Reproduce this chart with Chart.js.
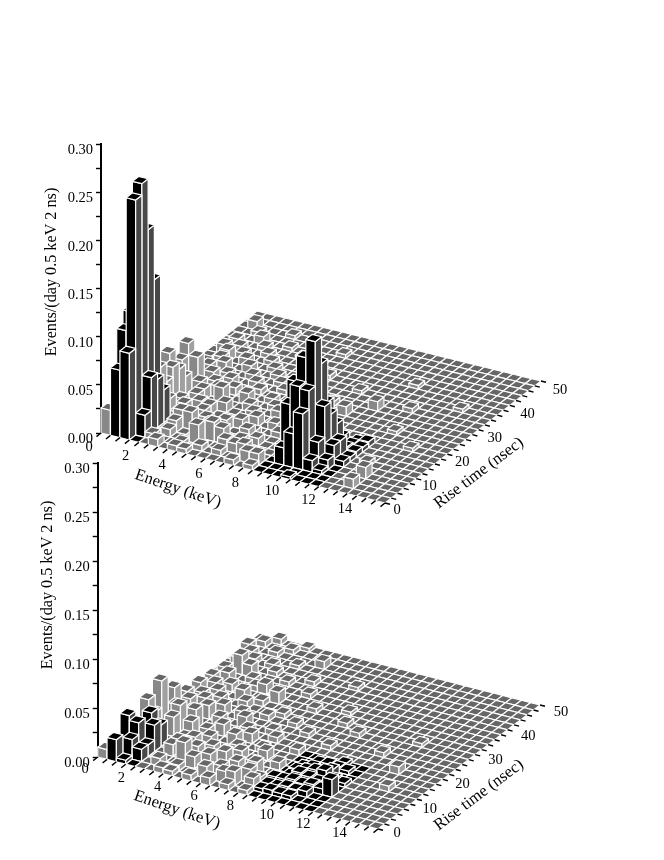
<!DOCTYPE html>
<html>
<head>
<meta charset="utf-8">
<script src="https://cdn.jsdelivr.net/npm/chart.js@4"></script>
<style>
html, body { margin: 0; padding: 0; background: #fff; }
#page { position: relative; width: 664px; height: 860px; overflow: hidden; }
canvas { position: absolute; left: 0; }
</style>
</head>
<body>
<div id="page">
<canvas id="top" width="664" height="540" style="top:0"></canvas>
<canvas id="bottom" width="664" height="420" style="top:440px"></canvas>
</div>
<script>
// bin size of the histogram
const energyBin = 0.5; // keV
const riseBin = 2;     // ns

const energyTicks = [0, 2, 4, 6, 8, 10, 12, 14];
const riseTicks = [0, 10, 20, 30, 40, 50];

// [energy bin, rise time bin, events], empty bins are left out
const topBars = [
  [0,0,.026],[1,0,.07],[2,0,.09],[5,0,.008],[7,0,.006],[8,0,.005],[13,0,.006],[15,0,.005],[19,0,.003],
  [1,1,.106],[2,1,.244],[3,1,.023],[4,1,.006],[7,1,.005],[9,1,.006],[11,1,.006],[14,1,.012],[15,1,.012],[25,1,.01],
  [1,2,.12],[2,2,.256],[3,2,.057],[5,2,.008],[8,2,.02],[11,2,.012],[12,2,.01],[13,2,.012],[17,2,.018],[18,2,.035],[19,2,.058],[20,2,.012],[21,2,.004],
  [1,3,.1],[2,3,.203],[3,3,.05],[5,3,.012],[9,3,.02],[10,3,.016],[12,3,.01],[17,3,.058],[18,3,.079],[19,3,.077],[20,3,.026],[21,3,.01],[25,3,.012],
  [2,4,.146],[3,4,.034],[5,4,.018],[6,4,.018],[8,4,.012],[12,4,.015],[13,4,.008],[17,4,.077],[18,4,.104],[19,4,.123],[20,4,.058],[21,4,.02],[22,4,.006],
  [2,5,.05],[3,5,.02],[4,5,.008],[7,5,.01],[9,5,.012],[12,5,.008],[18,5,.06],[19,5,.095],[20,5,.045],[21,5,.02],[22,5,.005],[24,5,.005],
  [2,6,.03],[4,6,.012],[6,6,.01],[10,6,.01],[14,6,.006],[19,6,.05],[20,6,.03],[21,6,.008],[22,6,.006],
  [2,7,.04],[3,7,.01],[5,7,.012],[6,7,.01],[11,7,.01],[13,7,.008],[20,7,.012],[21,7,.006],[22,7,.005],
  [1,8,.047],[2,8,.033],[4,8,.012],[7,8,.01],[10,8,.008],[15,8,.006],[21,8,.004],[22,8,.006],
  [0,9,.01],[2,9,.02],[4,9,.012],[6,9,.018],[9,9,.008],[12,9,.008],[26,9,.004],
  [1,10,.03],[3,10,.012],[5,10,.012],[8,10,.012],[11,10,.006],[16,10,.006],
  [1,11,.042],[2,11,.03],[4,11,.01],[6,11,.008],[10,11,.006],[14,11,.005],[23,11,.004],
  [0,12,.012],[3,12,.012],[5,12,.01],[8,12,.006],[12,12,.006],[17,12,.01],
  [2,13,.012],[4,13,.008],[7,13,.006],[10,13,.005],[15,13,.005],
  [1,14,.008],[3,14,.012],[6,14,.006],[9,14,.005],[13,14,.005],[19,14,.01],
  [2,15,.01],[5,15,.008],[8,15,.005],[11,15,.005],[22,15,.005],
  [2,16,.012],[4,16,.008],[7,16,.005],[16,16,.004],
  [1,17,.01],[3,17,.006],[6,17,.005],[12,17,.005],[26,17,.004],
  [2,18,.006],[5,18,.005],[9,18,.004],
  [1,19,.006],[4,19,.005],[8,19,.004],[20,19,.004],
  [3,20,.008],[6,20,.004],
  [2,21,.005],[11,21,.004],
  [1,22,.009],[5,22,.004]
];

const bottomBars = [
  [0,0,.01],[1,0,.0225],[2,0,.004],[6,0,.006],[7,0,.005],[9,0,.006],[11,0,.008],[13,0,.006],[15,0,.005],
  [2,1,.02],[3,1,.0125],[5,1,.008],[7,1,.006],[10,1,.012],[12,1,.012],[13,1,.014],[15,1,.012],[16,1,.004],[17,1,.005],[18,1,.004],[19,1,.004],
  [1,2,.037],[2,2,.032],[3,2,.012],[7,2,.024],[8,2,.012],[11,2,.01],[14,2,.014],[15,2,.008],[16,2,.004],[17,2,.004],[18,2,.006],[19,2,.005],[20,2,.006],
  [2,3,.02],[3,3,.027],[5,3,.012],[9,3,.012],[12,3,.012],[14,3,.016],[16,3,.006],[17,3,.006],[18,3,.008],[19,3,.006],[20,3,.008],[21,3,.006],[22,3,.018],
  [2,4,.032],[3,4,.022],[5,4,.012],[7,4,.01],[10,4,.012],[13,4,.01],[17,4,.005],[18,4,.01],[19,4,.008],[20,4,.006],[21,4,.005],
  [1,5,.038],[5,5,.01],[6,5,.012],[8,5,.008],[11,5,.01],[15,5,.008],[17,5,.006],[18,5,.008],[19,5,.01],[20,5,.012],[21,5,.006],[22,5,.004],
  [1,6,.02],[3,6,.02],[5,6,.02],[7,6,.01],[10,6,.008],[13,6,.01],[17,6,.004],[18,6,.006],[20,6,.008],[26,6,.006],
  [1,7,.047],[3,7,.027],[6,7,.01],[9,7,.012],[12,7,.006],[18,7,.005],[19,7,.006],[20,7,.005],[21,7,.004],
  [2,8,.02],[4,8,.02],[7,8,.012],[10,8,.01],[15,8,.006],[20,8,.004],
  [1,9,.03],[3,9,.012],[6,9,.012],[9,9,.008],[12,9,.006],[25,9,.008],
  [2,10,.016],[4,10,.014],[8,10,.012],[11,10,.006],[17,10,.005],
  [1,11,.016],[3,11,.014],[5,11,.012],[7,11,.01],[14,11,.005],[22,11,.005],
  [2,12,.012],[4,12,.012],[9,12,.006],[12,12,.005],
  [1,13,.015],[3,13,.012],[6,13,.008],[10,13,.005],[18,13,.005],
  [2,14,.012],[5,14,.012],[7,14,.006],[16,14,.005],[24,14,.004],
  [1,15,.012],[3,15,.008],[8,15,.012],[12,15,.005],
  [2,16,.012],[5,16,.006],[6,16,.01],[15,16,.004],
  [1,17,.01],[4,17,.006],[10,17,.005],
  [2,18,.02],[3,18,.012],[7,18,.005],
  [1,19,.01],[5,19,.005],[9,19,.005],
  [2,20,.006],[4,20,.005],[13,20,.004],
  [1,21,.006],[6,21,.004],
  [0,22,.006],[3,22,.005],[8,22,.008],
  [1,23,.006],[4,23,.005],
  [2,24,.006],[5,24,.004]
];

// bins drawn black: [first energy bin, last energy bin, last rise bin]
const blackWindows = [[1, 3, 4], [16, 22, 8]];

function project(chart, energy, rise, value) {
  const p = chart.options.skew, xS = chart.scales.x, rS = chart.scales.rise, yS = chart.scales.y;
  const e = xS.getPixelForValue(energy) - xS.left;
  const r = rS.getPixelForValue(rise) - rS.left;
  return [xS.left + e + p.riseX * r, yS.getPixelForValue(value) + p.energyY * e + p.riseY * r];
}

function poly(ctx, pts, fill) {
  ctx.beginPath();
  pts.forEach((q, n) => n ? ctx.lineTo(q[0], q[1]) : ctx.moveTo(q[0], q[1]));
  ctx.closePath();
  ctx.fillStyle = fill;
  ctx.fill();
  ctx.stroke();
}

function text(ctx, str, x, y, angle, size) {
  ctx.save();
  ctx.translate(x, y);
  ctx.rotate(angle * Math.PI / 180);
  ctx.font = size + 'px "Liberation Serif"';
  ctx.fillStyle = '#000';
  ctx.textAlign = 'center';
  ctx.textBaseline = 'middle';
  ctx.fillText(str, 0, 0);
  ctx.restore();
}

const legoPlugin = {
  id: 'lego',
  afterDatasetsDraw(chart) {
    const ctx = chart.ctx, o = chart.options.skew;
    const heights = {};
    chart.data.datasets[0].data.forEach(d => { heights[d.i + '_' + d.j] = d.y; });
    ctx.save();
    ctx.strokeStyle = '#fff';
    ctx.lineWidth = 1.2;
    ctx.lineJoin = 'round';
    // far bins first so the nearer ones cover them
    for (let j = 24; j >= 0; j--) {
      for (let i = 0; i < 30; i++) {
        const e0 = i * energyBin, e1 = e0 + energyBin, r0 = j * riseBin, r1 = r0 + riseBin;
        const h = heights[i + '_' + j] || 0;
        const black = blackWindows.some(w => i >= w[0] && i <= w[1] && j <= w[2]);
        const a = project(chart, e0, r0, h), b = project(chart, e1, r0, h);
        const c = project(chart, e1, r1, h), d = project(chart, e0, r1, h);
        if (h > 0) {
          const a0 = project(chart, e0, r0, 0), b0 = project(chart, e1, r0, 0), c0 = project(chart, e1, r1, 0);
          poly(ctx, [a0, b0, b, a], black ? '#000' : '#888888');
          poly(ctx, [b0, c0, c, b], black ? '#484848' : '#a0a0a0');
        }
        poly(ctx, [a, b, c, d], black ? '#000' : '#666666');
      }
    }
    ctx.restore();

    // energy axis, along the front edge
    ctx.save();
    ctx.strokeStyle = '#000';
    ctx.lineWidth = 1.4;
    for (let i = 0; i <= 30; i++) {
      const q = project(chart, i * energyBin, 0, 0);
      ctx.beginPath();
      ctx.moveTo(q[0], q[1]);
      ctx.lineTo(q[0] - 4.5, q[1] + 3.6);
      ctx.stroke();
    }
    // rise time axis, along the right edge
    for (let j = 0; j <= 25; j++) {
      const q = project(chart, 15, j * riseBin, 0);
      ctx.beginPath();
      ctx.moveTo(q[0], q[1]);
      ctx.lineTo(q[0] + 5, q[1] + 1.3);
      ctx.stroke();
    }
    ctx.restore();

    energyTicks.forEach(v => {
      const q = project(chart, v, 0, 0);
      text(ctx, String(v), q[0] + o.eLabel[0] + o.eLabel[2] * v, q[1] + o.eLabel[1] + o.eLabel[3] * v, 0, 14.5);
    });
    riseTicks.forEach(v => {
      const q = project(chart, 15, v, 0);
      text(ctx, String(v), q[0] + o.rLabel[0] + o.rLabel[2] * v, q[1] + o.rLabel[1] + o.rLabel[3] * v, 0, 14.5);
    });
    text(ctx, 'Energy (keV)', o.eTitle[0], o.eTitle[1], 19, 16.5);
    text(ctx, 'Rise time (nsec)', o.rTitle[0], o.rTitle[1], -37, 16.5);
    text(ctx, 'Events/(day 0.5 keV 2 ns)', o.yTitle[0], o.yTitle[1], -90, 16.2);
  }
};

function makePanel(id, bars, area, skew) {
  const c = document.getElementById(id);
  const data = bars.map(b => ({ x: b[0] * energyBin, y: b[2], i: b[0], j: b[1] }));
  return new Chart(c, {
    type: 'scatter',
    data: { datasets: [{ label: id, data: data, pointRadius: 0, showLine: false }] },
    plugins: [legoPlugin],
    options: {
      responsive: false,
      animation: false,
      devicePixelRatio: 1,
      skew: skew,
      layout: { padding: { left: area.left - 60, right: c.width - area.right, top: area.top, bottom: c.height - area.bottom } },
      plugins: { legend: { display: false }, title: { display: false }, tooltip: { enabled: false } },
      scales: {
        x: { type: 'linear', min: 0, max: 15, display: false },
        rise: { type: 'linear', axis: 'x', min: 0, max: 50, display: false },
        y: {
          min: 0, max: 0.3,
          afterFit(s) { s.width = 60; s.paddingTop = 0; s.paddingBottom = 0; },
          border: { display: true, color: '#000', width: 2 },
          grid: { drawOnChartArea: false, color: '#000', tickColor: '#000', tickLength: 5, tickWidth: 1.4 },
          ticks: {
            stepSize: 0.025,
            autoSkip: false,
            color: '#000',
            padding: 3,
            labelOffset: 6.5,
            maxRotation: 0,
            font: { family: 'Liberation Serif', size: 14.5 },
            callback: v => {
              const k = Math.round(v * 1000);
              return k % 50 === 0 ? (k / 1000).toFixed(2) : '';
            }
          }
        }
      }
    }
  });
}

makePanel('top', topBars, { left: 101, right: 385, top: 144, bottom: 433 }, {
  riseX: 156 / 284, riseY: -122 / 284, energyY: 70 / 284,
  eLabel: [-12, 14, -0.64, -0.2], rLabel: [12, 7, 0.14, 0.04],
  eTitle: [178, 489], rTitle: [479, 473], yTitle: [52, 272]
});
makePanel('bottom', bottomBars, { left: 97.7, right: 378, top: 23, bottom: 317 }, {
  riseX: 162 / 280.3, riseY: -124 / 280.3, energyY: 72 / 280.3,
  eLabel: [-12.7, 12, -0.5, -0.2], rLabel: [19, 4, 0.04, 0.06],
  eTitle: [177, 370], rTitle: [479, 355], yTitle: [48, 145]
});
</script>
</body>
</html>
